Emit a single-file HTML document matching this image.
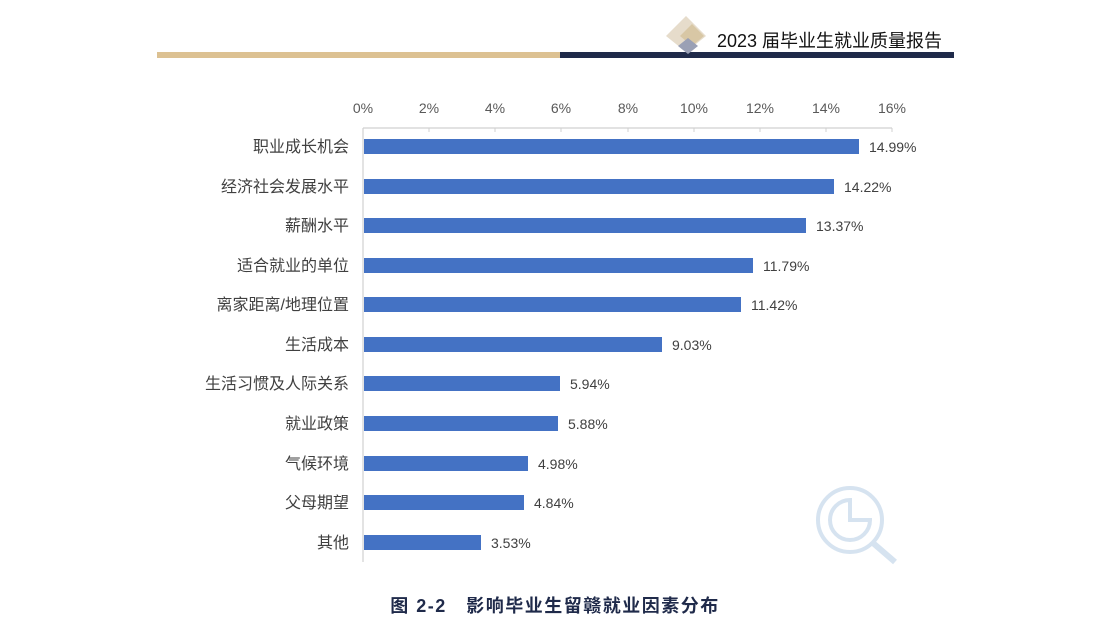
<!DOCTYPE html>
<html><head><meta charset="utf-8"><style>
html,body{margin:0;padding:0;background:#fff;}
svg{display:block;}
text{font-family:"Liberation Sans","Noto Sans CJK SC",sans-serif;}
</style></head><body>
<svg width="1111" height="629" xmlns="http://www.w3.org/2000/svg">
<rect x="157" y="52" width="403" height="6" fill="#dcc192"/>
<rect x="560" y="52" width="394" height="6" fill="#1f2a4a"/>
<polygon points="686,16 706,36 686,52 666,36" fill="#e6dccb"/>
<polygon points="692,24 704,36 692,46 680,36" fill="#d8c7a5"/>
<polygon points="688,38 698,46 688,54 678,46" fill="#9aa0b5"/>
<text x="717" y="47" font-size="18" fill="#111">2023 届毕业生就业质量报告</text>
<g font-size="14" fill="#595959" text-anchor="middle">
<text x="363" y="113">0%</text><text x="429" y="113">2%</text><text x="495" y="113">4%</text>
<text x="561" y="113">6%</text><text x="628" y="113">8%</text><text x="694" y="113">10%</text>
<text x="760" y="113">12%</text><text x="826" y="113">14%</text><text x="892" y="113">16%</text>
</g>
<line x1="363" y1="128" x2="892" y2="128" stroke="#d0d0d0" stroke-width="1.2"/>
<line x1="363" y1="128" x2="363" y2="562" stroke="#d0d0d0" stroke-width="1.2"/>
<g stroke="#d0d0d0"><line x1="429" y1="128" x2="429" y2="132"/><line x1="495" y1="128" x2="495" y2="132"/><line x1="561" y1="128" x2="561" y2="132"/><line x1="628" y1="128" x2="628" y2="132"/><line x1="694" y1="128" x2="694" y2="132"/><line x1="760" y1="128" x2="760" y2="132"/><line x1="826" y1="128" x2="826" y2="132"/><line x1="892" y1="128" x2="892" y2="132"/></g>
<g fill="#4472c4">
<rect x="364" y="139" width="495" height="15"/>
<rect x="364" y="179" width="470" height="15"/>
<rect x="364" y="218" width="442" height="15"/>
<rect x="364" y="258" width="389" height="15"/>
<rect x="364" y="297" width="377" height="15"/>
<rect x="364" y="337" width="298" height="15"/>
<rect x="364" y="376" width="196" height="15"/>
<rect x="364" y="416" width="194" height="15"/>
<rect x="364" y="456" width="164" height="15"/>
<rect x="364" y="495" width="160" height="15"/>
<rect x="364" y="535" width="117" height="15"/>
</g>
<g font-size="14" fill="#404040">
<text x="869" y="152">14.99%</text><text x="844" y="192">14.22%</text><text x="816" y="231">13.37%</text>
<text x="763" y="271">11.79%</text><text x="751" y="310">11.42%</text><text x="672" y="350">9.03%</text>
<text x="570" y="389">5.94%</text><text x="568" y="429">5.88%</text><text x="538" y="469">4.98%</text>
<text x="534" y="508">4.84%</text><text x="491" y="548">3.53%</text>
</g>
<g font-size="16" fill="#404040" text-anchor="end">
<text x="349" y="152">职业成长机会</text><text x="349" y="192">经济社会发展水平</text><text x="349" y="231">薪酬水平</text>
<text x="349" y="271">适合就业的单位</text><text x="349" y="310">离家距离/地理位置</text><text x="349" y="350">生活成本</text>
<text x="349" y="389">生活习惯及人际关系</text><text x="349" y="429">就业政策</text><text x="349" y="469">气候环境</text>
<text x="349" y="508">父母期望</text><text x="349" y="548">其他</text>
</g>
<g fill="none" stroke="#d6e3f0" stroke-width="4">
<circle cx="850" cy="520" r="32"/>
<path d="M850 500 A20 20 0 1 0 870 520 L850 520 Z"/>
<line x1="873" y1="543" x2="895" y2="562" stroke-width="6"/>
</g>
<text x="555" y="612" font-size="18" font-weight="bold" fill="#1f2a4a" text-anchor="middle" letter-spacing="1.5">图 2-2　影响毕业生留赣就业因素分布</text>
</svg>
</body></html>
